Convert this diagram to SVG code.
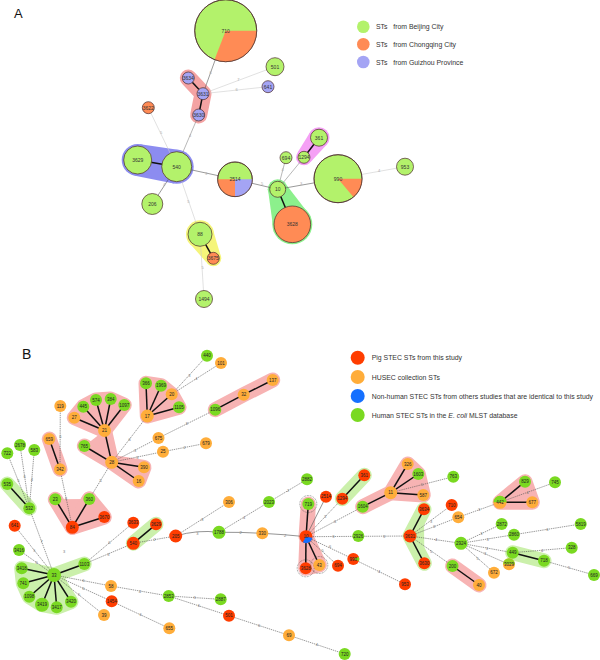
<svg xmlns="http://www.w3.org/2000/svg" width="600" height="660" viewBox="0 0 600 660">
<style>
text{font-family:"Liberation Sans",Arial,sans-serif}
.t{font-size:4.5px;text-anchor:middle;dominant-baseline:central;fill:#222}
.ta{font-size:5px;text-anchor:middle;dominant-baseline:central;fill:#333}
.el{font-size:4px;text-anchor:middle;dominant-baseline:central;fill:#777}
.ela{font-size:4px;text-anchor:middle;dominant-baseline:central;fill:#aaa}
.leg{font-size:6.9px;fill:#333}
.ag{fill:#b3f26b;stroke:#4b2a2a;stroke-width:0.7}
.ao{fill:#ff8b55;stroke:#4b2a2a;stroke-width:0.7}
.ap{fill:#a4a4f4;stroke:#4b2a2a;stroke-width:0.7}
.fo{fill:#ff8b55}.fp{fill:#a4a4f4}
.br{fill:#ff3d00}.bo{fill:#ffad3a}.bb{fill:#1570ff}.bg{fill:#7ad921}
.ea{stroke:#555;stroke-width:0.6;fill:none}
.eal{stroke:#ccc;stroke-width:0.6;fill:none}
.eam{stroke:#888;stroke-width:0.6;fill:none}
.th{stroke:#111;stroke-width:1.5;fill:none}
.ed{stroke:#555;stroke-width:0.6;stroke-dasharray:1.4,0.8;fill:none}
.es{stroke:#666;stroke-width:0.7;fill:none}
.pk{stroke:#f7b3b3;stroke-width:15;stroke-linecap:round;stroke-linejoin:round;fill:#f7b3b3}
.gn{stroke:#cbf0ab;stroke-width:15;stroke-linecap:round;stroke-linejoin:round;fill:#cbf0ab}
.dc{fill:none;stroke:#444;stroke-width:0.6;stroke-dasharray:0.8,0.8}
</style>

<text x="14" y="18" font-family="'Liberation Serif',serif" font-size="13" fill="#111">A</text>
<text x="22" y="359" font-family="'Liberation Serif',serif" font-size="14" fill="#111">B</text>

<g id="legend-a">
<circle cx="363.3" cy="26.7" r="6.3" fill="#b3f26b"/>
<circle cx="363.3" cy="44.3" r="6.3" fill="#ff8b55"/>
<circle cx="363.3" cy="62" r="6.3" fill="#a4a4f4"/>
<text class="leg" x="376" y="29.2" xml:space="preserve">STs   from Beijing City</text>
<text class="leg" x="376" y="46.8" xml:space="preserve">STs   from Chongqing City</text>
<text class="leg" x="376" y="64.5" xml:space="preserve">STs   from Guizhou Province</text>
</g>

<g id="legend-b">
<circle cx="357.7" cy="357.7" r="7" fill="#ff3d00"/>
<circle cx="357.7" cy="377" r="7" fill="#ffad3a"/>
<circle cx="357.7" cy="396" r="7" fill="#1570ff"/>
<circle cx="357.7" cy="415" r="7" fill="#7ad921"/>
<text class="leg" x="371.7" y="360.2">Pig STEC STs from this study</text>
<text class="leg" x="371.7" y="379.5">HUSEC collection STs</text>
<text class="leg" x="371.7" y="398.5">Non-human STEC STs from others studies that are identical to this study</text>
<text class="leg" x="371.7" y="417.5">Human STEC STs in the <tspan font-style="italic">E. coli</tspan> MLST database</text>
</g>

<g id="bands-a">
<polyline points="188.3,78 203,93.7 198.7,115" fill="none" stroke="#f4a3a3" stroke-width="17" stroke-linecap="round" stroke-linejoin="round"/>
<g fill="#8c8cf0"><polygon points="140.4,144.2 179.6,150 173.8,183.4 135,175.8"/><circle cx="137.7" cy="160" r="16"/><circle cx="176.7" cy="166.7" r="17"/></g>
<g fill="#8cf08c"><polygon points="268.5,193.2 286.9,185.5 310.8,216.6 273.8,232"/><circle cx="277.7" cy="189.3" r="10"/><circle cx="292.3" cy="224.3" r="20"/></g>
<g fill="#f5f57a"><polygon points="187.7,241.1 212.3,227.5 220.3,254.4 206.3,262.2"/><circle cx="200" cy="234.3" r="14"/><circle cx="213.3" cy="258.3" r="8"/></g>
<g fill="#f5a0f5"><polygon points="310.4,162.2 327.3,144.1 310.7,131.3 297.6,152.4"/><circle cx="304" cy="157.3" r="8"/><circle cx="319" cy="137.7" r="10.5"/></g>
</g>

<g id="connectors-a">
<line class="ea" x1="225.7" y1="30.7" x2="203" y2="93.7"/>
<line class="th" x1="188.3" y1="78" x2="203" y2="93.7"/>
<line class="th" x1="203" y1="93.7" x2="198.7" y2="115"/>
<line class="eal" x1="203" y1="93.7" x2="275" y2="66.7"/>
<line class="eal" x1="203" y1="93.7" x2="268" y2="86.7"/>
<line class="eal" x1="148.3" y1="107.7" x2="176.7" y2="166.7"/>
<line class="eam" x1="198.7" y1="115" x2="176.7" y2="166.7"/>
<line class="th" x1="137.7" y1="160" x2="176.7" y2="166.7"/>
<line class="ea" x1="176.7" y1="166.7" x2="152.3" y2="204"/>
<line class="ea" x1="176.7" y1="166.7" x2="235" y2="179.3"/>
<line class="eal" x1="176.7" y1="166.7" x2="200" y2="234.3"/>
<line class="th" x1="200" y1="234.3" x2="213.3" y2="258.3"/>
<line class="eal" x1="200" y1="234.3" x2="204" y2="299"/>
<line class="ea" x1="235" y1="179.3" x2="277.7" y2="189.3"/>
<line class="eam" x1="277.7" y1="189.3" x2="286" y2="157.7"/>
<line class="eam" x1="277.7" y1="189.3" x2="304" y2="157.3"/>
<line class="th" x1="304" y1="157.3" x2="319" y2="137.7"/>
<line class="ea" x1="277.7" y1="189.3" x2="338" y2="178.7"/>
<line class="eal" x1="338" y1="178.7" x2="405" y2="166.7"/>
<line class="th" x1="277.7" y1="189.3" x2="292.3" y2="224.3"/>
<text class="ela" x="210.7" y="72.7">6</text>
<text class="ela" x="238.3" y="79.3">7</text>
<text class="ela" x="236.7" y="89">6</text>
<text class="ela" x="161" y="132">5</text>
<text class="ela" x="190" y="135">4</text>
<text class="ela" x="164" y="184">4</text>
<text class="ela" x="206" y="173.3">3</text>
<text class="ela" x="188.3" y="201">5</text>
<text class="ela" x="202.7" y="267.7">5</text>
<text class="ela" x="262" y="183.3">5</text>
<text class="ela" x="282.7" y="169.3">4</text>
<text class="ela" x="301" y="183.3">3</text>
<text class="ela" x="379" y="170.7">4</text>
</g>

<g id="a-710"><circle class="ag" cx="225.7" cy="30.7" r="31"/><path class="fo" d="M225.7,30.7 L256.7,30.7 A31,31 0 0 1 214.6,59.6 Z"/><circle cx="225.7" cy="30.7" r="31" fill="none" stroke="#4b2a2a" stroke-width="0.7"/><text class="ta" x="225.7" y="30.7">710</text></g>
<g id="a-3634"><circle class="ap" cx="188.3" cy="78" r="6"/><text class="ta" x="188.3" y="78" font-size="4">3634</text></g>
<g id="a-3631"><circle class="ap" cx="203" cy="93.7" r="6"/><text class="ta" x="203" y="93.7" font-size="4">3631</text></g>
<g id="a-3630"><circle class="ap" cx="198.7" cy="115" r="6"/><text class="ta" x="198.7" y="115" font-size="4">3630</text></g>
<g id="a-501"><circle class="ag" cx="275" cy="66.7" r="9"/><text class="ta" x="275" y="66.7">501</text></g>
<g id="a-641"><circle class="ap" cx="268" cy="86.7" r="6"/><text class="ta" x="268" y="86.7" font-size="4">641</text></g>
<g id="a-3622"><circle class="ao" cx="148.3" cy="107.7" r="6"/><text class="ta" x="148.3" y="107.7" font-size="4">3622</text></g>
<g id="a-3629"><circle class="ag" cx="137.7" cy="160" r="14"/><text class="ta" x="137.7" y="160">3629</text></g>
<g id="a-540"><circle class="ag" cx="176.7" cy="166.7" r="15"/><text class="ta" x="176.7" y="166.7">540</text></g>
<g id="a-206"><circle class="ag" cx="152.3" cy="204" r="10.5"/><text class="ta" x="152.3" y="204">206</text></g>
<g id="a-2514"><circle class="ag" cx="235" cy="179.3" r="17.3"/><path class="fo" d="M235,179.3 L235,196.6 A17.3,17.3 0 0 1 217.7,179.3 Z"/><path class="fp" d="M235,179.3 L252.3,179.3 A17.3,17.3 0 0 1 235,196.6 Z"/><circle cx="235" cy="179.3" r="17.3" fill="none" stroke="#4b2a2a" stroke-width="0.7"/><text class="ta" x="235" y="179.3">2514</text></g>
<g id="a-10"><circle class="ag" cx="277.7" cy="189.3" r="8"/><text class="ta" x="277.7" y="189.3">10</text></g>
<g id="a-694"><circle class="ag" cx="286" cy="157.7" r="6"/><text class="ta" x="286" y="157.7" font-size="4">694</text></g>
<g id="a-1294"><circle class="ag" cx="304" cy="157.3" r="6"/><text class="ta" x="304" y="157.3" font-size="4">1294</text></g>
<g id="a-361"><circle class="ag" cx="319" cy="137.7" r="8.5"/><text class="ta" x="319" y="137.7">361</text></g>
<g id="a-990"><circle class="ag" cx="338" cy="178.7" r="24"/><path class="fo" d="M338,178.7 L362,178.7 A24,24 0 0 1 353.4,197.1 Z"/><circle cx="338" cy="178.7" r="24" fill="none" stroke="#4b2a2a" stroke-width="0.7"/><text class="ta" x="338" y="178.7">990</text></g>
<g id="a-953"><circle class="ag" cx="405" cy="166.7" r="8.5"/><text class="ta" x="405" y="166.7">953</text></g>
<g id="a-3628"><circle class="ao" cx="292.3" cy="224.3" r="18.3"/><text class="ta" x="292.3" y="224.3">3628</text></g>
<g id="a-88"><circle class="ag" cx="200" cy="234.3" r="12"/><text class="ta" x="200" y="234.3">88</text></g>
<g id="a-3675"><circle class="ao" cx="213.3" cy="258.3" r="6"/><text class="ta" x="213.3" y="258.3" font-size="4">3675</text></g>
<g id="a-1494"><circle class="ag" cx="204" cy="299" r="8.5"/><text class="ta" x="204" y="299">1494</text></g>

<g id="bands-b">
<polygon class="pk" points="147.3,416 146,383.3 161,385.7 171.7,394.3 179,407.3"/>
<polygon class="pk" points="104.5,430.5 74.3,417.7 83.3,406.7 96,400 110.7,399 124.3,405"/>
<polyline class="pk" fill="none" points="104.5,430.5 111.7,462.3 84.3,446"/>
<polygon class="pk" points="111.7,462.3 144,467.3 138.7,481"/>
<polyline class="pk" fill="none" points="215.3,409.7 243.7,394.7 272.7,380"/>
<line class="pk" x1="49.3" y1="439" x2="60" y2="469.3"/>
<polyline class="pk" fill="none" points="55.3,499.3 72.3,527.3 89.3,499"/>
<polygon class="pk" points="72.3,527.3 89.3,499 104.3,517"/>
<polygon class="pk" points="308.3,504 306,536.7 319.3,565 305.7,568.3"/>
<line class="pk" x1="362.7" y1="506.7" x2="390.7" y2="492.7"/>
<polygon class="pk" points="390.7,492.7 407.7,464 418.3,474 423.3,495"/>
<line class="pk" x1="452.5" y1="566" x2="479" y2="585"/>
<polygon class="pk" points="500,502.3 525,481.7 532.3,502.3"/>
<line class="gn" x1="7.3" y1="484" x2="29.3" y2="508.3"/>
<polygon class="gn" points="54,575 21.7,568.3 23.3,583.3 29.3,596.7 42,604.7 56.7,607.3 71,601.7"/>
<line class="gn" x1="54" y1="575" x2="84.3" y2="564"/>
<line class="gn" x1="133.3" y1="543.3" x2="156" y2="524.3"/>
<line class="gn" x1="342.3" y1="498.7" x2="364.3" y2="475.3"/>
<polyline class="gn" fill="none" points="424,509.3 410,536 424.3,563.3"/>
<line class="gn" x1="512.7" y1="552.7" x2="544" y2="560.7"/>
</g>

<g id="connectors-b">
<line class="ed" x1="171.7" y1="394.3" x2="207" y2="355.7"/>
<line class="ed" x1="171.7" y1="394.3" x2="221" y2="363"/>
<line class="ed" x1="147.3" y1="416" x2="111.7" y2="462.3"/>
<line class="ed" x1="158.5" y1="438" x2="215.3" y2="409.7"/>
<line class="ed" x1="111.7" y1="462.3" x2="158.5" y2="438"/>
<line class="ed" x1="111.7" y1="462.3" x2="163" y2="451.7"/>
<line class="ed" x1="163" y1="451.7" x2="206" y2="443.3"/>
<line class="ed" x1="111.7" y1="462.3" x2="89.3" y2="499"/>
<line class="ed" x1="60.3" y1="406" x2="60" y2="469.3"/>
<line class="ed" x1="60" y1="469.3" x2="72.3" y2="527.3"/>
<line class="ed" x1="29.3" y1="508.3" x2="7.3" y2="453.3"/>
<line class="ed" x1="29.3" y1="508.3" x2="20" y2="445"/>
<line class="ed" x1="29.3" y1="508.3" x2="34.3" y2="450"/>
<line class="ed" x1="54" y1="575" x2="29.3" y2="508.3"/>
<line class="ed" x1="54" y1="575" x2="14.7" y2="525.8"/>
<line class="ed" x1="54" y1="575" x2="19" y2="550"/>
<line class="ed" x1="54" y1="575" x2="111" y2="586"/>
<line class="ed" x1="54" y1="575" x2="111.7" y2="601.3"/>
<line class="ed" x1="54" y1="575" x2="104" y2="615"/>
<line class="ed" x1="111" y1="586" x2="168.7" y2="596"/>
<line class="ed" x1="111.7" y1="601.3" x2="169.3" y2="628.3"/>
<line class="ed" x1="168.7" y1="596" x2="220.7" y2="599.3"/>
<line class="ed" x1="168.7" y1="596" x2="229" y2="615.7"/>
<line class="ed" x1="229" y1="615.7" x2="289" y2="635.3"/>
<line class="ed" x1="289" y1="635.3" x2="344.7" y2="654"/>
<line class="ed" x1="84.3" y1="564" x2="133.3" y2="522.7"/>
<line class="ed" x1="84.3" y1="564" x2="133.3" y2="543.3"/>
<line class="ed" x1="133.3" y1="543.3" x2="175.7" y2="536"/>
<path class="es" d="M175.7,536 Q197,529.5 219,532.3 Q240,532 262.3,533.3 Q285,534.5 306,536.7"/>
<line class="ed" x1="175.7" y1="536" x2="229" y2="502"/>
<line class="ed" x1="219" y1="532.3" x2="269" y2="502"/>
<line class="ed" x1="269" y1="502" x2="307" y2="479.3"/>
<line class="es" x1="306" y1="536.7" x2="326" y2="496.7"/>
<line class="ed" x1="306" y1="536.7" x2="342.3" y2="498.7"/>
<line class="ed" x1="306" y1="536.7" x2="362.7" y2="506.7"/>
<line class="ed" x1="390.7" y1="492.7" x2="453.3" y2="476.7"/>
<line class="ed" x1="306" y1="536.7" x2="410" y2="536"/>
<line class="ed" x1="306" y1="536.7" x2="338" y2="565.7"/>
<line class="ed" x1="306" y1="536.7" x2="353.3" y2="559"/>
<line class="ed" x1="353.3" y1="559" x2="405" y2="584.3"/>
<line class="ed" x1="410" y1="536" x2="451.7" y2="505"/>
<line class="ed" x1="410" y1="536" x2="458.3" y2="517.3"/>
<line class="ed" x1="410" y1="536" x2="461" y2="543.3"/>
<line class="ed" x1="410" y1="536" x2="452.5" y2="566"/>
<line class="ed" x1="458.3" y1="517.3" x2="500" y2="502.3"/>
<line class="ed" x1="500" y1="502.3" x2="555" y2="482.3"/>
<line class="ed" x1="461" y1="543.3" x2="501.7" y2="524"/>
<line class="ed" x1="461" y1="543.3" x2="514" y2="534.7"/>
<line class="ed" x1="461" y1="543.3" x2="512.7" y2="552.7"/>
<line class="ed" x1="461" y1="543.3" x2="509" y2="564.3"/>
<line class="ed" x1="461" y1="543.3" x2="494" y2="572.7"/>
<line class="ed" x1="514" y1="534.7" x2="580.7" y2="524"/>
<line class="ed" x1="512.7" y1="552.7" x2="571.7" y2="547.7"/>
<line class="ed" x1="544" y1="560.7" x2="594" y2="575"/>

<line class="th" x1="147.3" y1="416" x2="146" y2="383.3"/>
<line class="th" x1="147.3" y1="416" x2="161" y2="385.7"/>
<line class="th" x1="147.3" y1="416" x2="171.7" y2="394.3"/>
<line class="th" x1="147.3" y1="416" x2="179" y2="407.3"/>
<line class="th" x1="215.3" y1="409.7" x2="243.7" y2="394.7"/>
<line class="th" x1="243.7" y1="394.7" x2="272.7" y2="380"/>
<line class="th" x1="104.5" y1="430.5" x2="74.3" y2="417.7"/>
<line class="th" x1="104.5" y1="430.5" x2="83.3" y2="406.7"/>
<line class="th" x1="104.5" y1="430.5" x2="96" y2="400"/>
<line class="th" x1="104.5" y1="430.5" x2="110.7" y2="399"/>
<line class="th" x1="104.5" y1="430.5" x2="124.3" y2="405"/>
<line class="th" x1="104.5" y1="430.5" x2="111.7" y2="462.3"/>
<line class="th" x1="111.7" y1="462.3" x2="84.3" y2="446"/>
<line class="th" x1="111.7" y1="462.3" x2="144" y2="467.3"/>
<line class="th" x1="111.7" y1="462.3" x2="138.7" y2="481"/>
<line class="th" x1="60" y1="469.3" x2="49.3" y2="439"/>
<line class="th" x1="72.3" y1="527.3" x2="55.3" y2="499.3"/>
<line class="th" x1="72.3" y1="527.3" x2="89.3" y2="499"/>
<line class="th" x1="72.3" y1="527.3" x2="104.3" y2="517"/>
<line class="th" x1="29.3" y1="508.3" x2="7.3" y2="484"/>
<line class="th" x1="54" y1="575" x2="21.7" y2="568.3"/>
<line class="th" x1="54" y1="575" x2="23.3" y2="583.3"/>
<line class="th" x1="54" y1="575" x2="29.3" y2="596.7"/>
<line class="th" x1="54" y1="575" x2="42" y2="604.7"/>
<line class="th" x1="54" y1="575" x2="56.7" y2="607.3"/>
<line class="th" x1="54" y1="575" x2="71" y2="601.7"/>
<line class="th" x1="54" y1="575" x2="84.3" y2="564"/>
<line class="th" x1="133.3" y1="543.3" x2="156" y2="524.3"/>
<line class="th" x1="306" y1="536.7" x2="308.3" y2="504"/>
<line class="th" x1="306" y1="536.7" x2="305.7" y2="568.3"/>
<line class="th" x1="306" y1="536.7" x2="319.3" y2="565"/>
<line class="th" x1="342.3" y1="498.7" x2="364.3" y2="475.3"/>
<line class="th" x1="362.7" y1="506.7" x2="390.7" y2="492.7"/>
<line class="th" x1="390.7" y1="492.7" x2="407.7" y2="464"/>
<line class="th" x1="390.7" y1="492.7" x2="418.3" y2="474"/>
<line class="th" x1="390.7" y1="492.7" x2="423.3" y2="495"/>
<line class="th" x1="410" y1="536" x2="424" y2="509.3"/>
<line class="th" x1="410" y1="536" x2="424.3" y2="563.3"/>
<line class="th" x1="452.5" y1="566" x2="479" y2="585"/>
<line class="th" x1="500" y1="502.3" x2="525" y2="481.7"/>
<line class="th" x1="500" y1="502.3" x2="532.3" y2="502.3"/>
<line class="th" x1="512.7" y1="552.7" x2="544" y2="560.7"/>

<text class="el" x="189.4" y="375">3</text>
<text class="el" x="196.4" y="378.7">4</text>
<text class="el" x="129.5" y="439.2">6</text>
<text class="el" x="186.9" y="423.9">8</text>
<text class="el" x="135.1" y="450.2">3</text>
<text class="el" x="137.4" y="457">3</text>
<text class="el" x="184.5" y="447.5">2</text>
<text class="el" x="100.5" y="480.7">5</text>
<text class="el" x="60.3" y="436">6</text>
<text class="el" x="66.2" y="498.3">6</text>
<text class="el" x="18.3" y="480.8">5</text>
<text class="el" x="24.7" y="476.7">6</text>
<text class="el" x="31.8" y="479.2">4</text>
<text class="el" x="41.7" y="541.7">7</text>
<text class="el" x="34.4" y="550.4">5</text>
<text class="el" x="36.5" y="562.5">6</text>
<text class="el" x="64" y="551">3</text>
<text class="el" x="83.3" y="580">6</text>
<text class="el" x="83.3" y="588.3">6</text>
<text class="el" x="79" y="594">5</text>
<text class="el" x="139.9" y="591">4</text>
<text class="el" x="140.5" y="614.8">6</text>
<text class="el" x="194.7" y="597.7">3</text>
<text class="el" x="198.9" y="605.9">6</text>
<text class="el" x="259" y="625.5">6</text>
<text class="el" x="316.9" y="644.7">4</text>
<text class="el" x="109.3" y="542.7">6</text>
<text class="el" x="108.3" y="554">3</text>
<text class="el" x="154.5" y="539.7">2</text>
<text class="el" x="197.4" y="533">3</text>
<text class="el" x="202.4" y="519">8</text>
<text class="el" x="244" y="517.2">4</text>
<text class="el" x="240.7" y="532.5">2</text>
<text class="el" x="288" y="490.7">2</text>
<text class="el" x="285" y="535.3">2</text>
<text class="el" x="325" y="516.7">3</text>
<text class="el" x="335" y="521">6</text>
<text class="el" x="422" y="484.7">5</text>
<text class="el" x="333.3" y="536">3</text>
<text class="el" x="384" y="536">3</text>
<text class="el" x="322.7" y="550.7">5</text>
<text class="el" x="330" y="546.7">6</text>
<text class="el" x="379.2" y="571.7">4</text>
<text class="el" x="431" y="521">3</text>
<text class="el" x="434" y="526.7">3</text>
<text class="el" x="436" y="539.7">4</text>
<text class="el" x="431.2" y="551">5</text>
<text class="el" x="479.2" y="509.8">3</text>
<text class="el" x="527.5" y="492.3">4</text>
<text class="el" x="481.4" y="533.7">3</text>
<text class="el" x="487.5" y="539">3</text>
<text class="el" x="486.9" y="548">3</text>
<text class="el" x="485" y="553.8">3</text>
<text class="el" x="477.5" y="558">5</text>
<text class="el" x="547.4" y="529.4">6</text>
<text class="el" x="542.2" y="550.2">4</text>
<text class="el" x="569" y="567.9">5</text>
</g>

<g id="b-440"><circle class="bg" cx="207" cy="355.7" r="6"/><text class="t" x="207" y="355.7">440</text></g>
<g id="b-101"><circle class="bo" cx="221" cy="363" r="6"/><text class="t" x="221" y="363">101</text></g>
<g id="b-20"><circle class="bo" cx="171.7" cy="394.3" r="6"/><text class="t" x="171.7" y="394.3">20</text></g>
<g id="b-366"><circle class="bg" cx="146" cy="383.3" r="6"/><text class="t" x="146" y="383.3">366</text></g>
<g id="b-1969"><circle class="bg" cx="161" cy="385.7" r="6"/><text class="t" x="161" y="385.7">1969</text></g>
<g id="b-1105"><circle class="bg" cx="179" cy="407.3" r="6"/><text class="t" x="179" y="407.3">1105</text></g>
<g id="b-17"><circle class="bo" cx="147.3" cy="416" r="6.5"/><text class="t" x="147.3" y="416">17</text></g>
<g id="b-1096"><circle class="bg" cx="215.3" cy="409.7" r="6"/><text class="t" x="215.3" y="409.7">1096</text></g>
<g id="b-32"><circle class="bo" cx="243.7" cy="394.7" r="6"/><text class="t" x="243.7" y="394.7">32</text></g>
<g id="b-137"><circle class="bo" cx="272.7" cy="380" r="6"/><text class="t" x="272.7" y="380">137</text></g>
<g id="b-675"><circle class="bo" cx="158.5" cy="438" r="6"/><text class="t" x="158.5" y="438">675</text></g>
<g id="b-21"><circle class="bo" cx="104.5" cy="430.5" r="6.5"/><text class="t" x="104.5" y="430.5">21</text></g>
<g id="b-27"><circle class="bo" cx="74.3" cy="417.7" r="6"/><text class="t" x="74.3" y="417.7">27</text></g>
<g id="b-445"><circle class="bg" cx="83.3" cy="406.7" r="6"/><text class="t" x="83.3" y="406.7">445</text></g>
<g id="b-574"><circle class="bg" cx="96" cy="400" r="6"/><text class="t" x="96" y="400">574</text></g>
<g id="b-384"><circle class="bg" cx="110.7" cy="399" r="6"/><text class="t" x="110.7" y="399">384</text></g>
<g id="b-1097"><circle class="bg" cx="124.3" cy="405" r="6"/><text class="t" x="124.3" y="405">1097</text></g>
<g id="b-119"><circle class="bo" cx="60.3" cy="406" r="6"/><text class="t" x="60.3" y="406">119</text></g>
<g id="b-659"><circle class="bo" cx="49.3" cy="439" r="6"/><text class="t" x="49.3" y="439">659</text></g>
<g id="b-342"><circle class="bo" cx="60" cy="469.3" r="6"/><text class="t" x="60" y="469.3">342</text></g>
<g id="b-28"><circle class="bo" cx="111.7" cy="462.3" r="6.5"/><text class="t" x="111.7" y="462.3">28</text></g>
<g id="b-765"><circle class="bg" cx="84.3" cy="446" r="6"/><text class="t" x="84.3" y="446">765</text></g>
<g id="b-390"><circle class="bo" cx="144" cy="467.3" r="6"/><text class="t" x="144" y="467.3">390</text></g>
<g id="b-16"><circle class="bo" cx="138.7" cy="481" r="6"/><text class="t" x="138.7" y="481">16</text></g>
<g id="b-25"><circle class="bo" cx="163" cy="451.7" r="6"/><text class="t" x="163" y="451.7">25</text></g>
<g id="b-679"><circle class="bo" cx="206" cy="443.3" r="6"/><text class="t" x="206" y="443.3">679</text></g>
<g id="b-84"><circle class="br" cx="72.3" cy="527.3" r="6.5"/><text class="t" x="72.3" y="527.3">84</text></g>
<g id="b-23"><circle class="bg" cx="55.3" cy="499.3" r="6"/><text class="t" x="55.3" y="499.3">23</text></g>
<g id="b-360"><circle class="bg" cx="89.3" cy="499" r="6"/><text class="t" x="89.3" y="499">360</text></g>
<g id="b-3670"><circle class="br" cx="104.3" cy="517" r="6"/><text class="t" x="104.3" y="517">3670</text></g>
<g id="b-722"><circle class="bg" cx="7.3" cy="453.3" r="6"/><text class="t" x="7.3" y="453.3">722</text></g>
<g id="b-2678"><circle class="bg" cx="20" cy="445" r="6"/><text class="t" x="20" y="445">2678</text></g>
<g id="b-583"><circle class="bg" cx="34.3" cy="450" r="6"/><text class="t" x="34.3" y="450">583</text></g>
<g id="b-535"><circle class="bg" cx="7.3" cy="484" r="6"/><text class="t" x="7.3" y="484">535</text></g>
<g id="b-532"><circle class="bg" cx="29.3" cy="508.3" r="6"/><text class="t" x="29.3" y="508.3">532</text></g>
<g id="b-641"><circle class="br" cx="14.7" cy="525.8" r="6"/><text class="t" x="14.7" y="525.8">641</text></g>
<g id="b-33"><circle class="bg" cx="54" cy="575" r="7"/><text class="t" x="54" y="575">33</text></g>
<g id="b-3416"><circle class="bg" cx="19" cy="550" r="6"/><text class="t" x="19" y="550">3416</text></g>
<g id="b-3418"><circle class="bg" cx="21.7" cy="568.3" r="6"/><text class="t" x="21.7" y="568.3">3418</text></g>
<g id="b-741"><circle class="bg" cx="23.3" cy="583.3" r="6"/><text class="t" x="23.3" y="583.3">741</text></g>
<g id="b-1098"><circle class="bg" cx="29.3" cy="596.7" r="6"/><text class="t" x="29.3" y="596.7">1098</text></g>
<g id="b-3419"><circle class="bg" cx="42" cy="604.7" r="7"/><text class="t" x="42" y="604.7">3419</text></g>
<g id="b-3417"><circle class="bg" cx="56.7" cy="607.3" r="6"/><text class="t" x="56.7" y="607.3">3417</text></g>
<g id="b-3420"><circle class="bg" cx="71" cy="601.7" r="6"/><text class="t" x="71" y="601.7">3420</text></g>
<g id="b-1103"><circle class="bg" cx="84.3" cy="564" r="6"/><text class="t" x="84.3" y="564">1103</text></g>
<g id="b-58"><circle class="bo" cx="111" cy="586" r="6"/><text class="t" x="111" y="586">58</text></g>
<g id="b-1454"><circle class="br" cx="111.7" cy="601.3" r="6"/><text class="t" x="111.7" y="601.3">1454</text></g>
<g id="b-39"><circle class="bo" cx="104" cy="615" r="6"/><text class="t" x="104" y="615">39</text></g>
<g id="b-2853"><circle class="bg" cx="168.7" cy="596" r="6"/><text class="t" x="168.7" y="596">2853</text></g>
<g id="b-655"><circle class="bo" cx="169.3" cy="628.3" r="6"/><text class="t" x="169.3" y="628.3">655</text></g>
<g id="b-2887"><circle class="bg" cx="220.7" cy="599.3" r="6"/><text class="t" x="220.7" y="599.3">2887</text></g>
<g id="b-501"><circle class="br" cx="229" cy="615.7" r="6"/><text class="t" x="229" y="615.7">501</text></g>
<g id="b-69"><circle class="bo" cx="289" cy="635.3" r="6"/><text class="t" x="289" y="635.3">69</text></g>
<g id="b-720"><circle class="bg" cx="344.7" cy="654" r="6"/><text class="t" x="344.7" y="654">720</text></g>
<g id="b-3633"><circle class="br" cx="133.3" cy="522.7" r="6"/><text class="t" x="133.3" y="522.7">3633</text></g>
<g id="b-3629"><circle class="br" cx="156" cy="524.3" r="6"/><text class="t" x="156" y="524.3">3629</text></g>
<g id="b-540"><circle class="br" cx="133.3" cy="543.3" r="6.5"/><text class="t" x="133.3" y="543.3">540</text></g>
<g id="b-205"><circle class="br" cx="175.7" cy="536" r="6.5"/><text class="t" x="175.7" y="536">205</text></g>
<g id="b-1788"><circle class="bg" cx="219" cy="532.3" r="6.5"/><text class="t" x="219" y="532.3">1788</text></g>
<g id="b-306"><circle class="bo" cx="229" cy="502" r="6"/><text class="t" x="229" y="502">306</text></g>
<g id="b-2023"><circle class="bg" cx="269" cy="502" r="6"/><text class="t" x="269" y="502">2023</text></g>
<g id="b-330"><circle class="bo" cx="262.3" cy="533.3" r="6"/><text class="t" x="262.3" y="533.3">330</text></g>
<g id="b-2882"><circle class="bg" cx="307" cy="479.3" r="6"/><text class="t" x="307" y="479.3">2882</text></g>
<g id="b-10"><circle class="br" cx="306" cy="536.7" r="6.5"/><path class="bb" d="M306,536.7 L312.4,537.8 A6.5,6.5 0 0 1 302.75,542.3 Z"/><text class="t" x="306" y="536.7">10</text></g>
<g id="b-719"><circle class="bg" cx="308.3" cy="504" r="6"/><circle class="dc" cx="308.3" cy="504" r="8.5"/><text class="t" x="308.3" y="504">719</text></g>
<g id="b-2514"><circle class="br" cx="326" cy="496.7" r="6"/><text class="t" x="326" y="496.7">2514</text></g>
<g id="b-1294"><circle class="br" cx="342.3" cy="498.7" r="6"/><text class="t" x="342.3" y="498.7">1294</text></g>
<g id="b-361"><circle class="br" cx="364.3" cy="475.3" r="6"/><text class="t" x="364.3" y="475.3">361</text></g>
<g id="b-1604"><circle class="bg" cx="362.7" cy="506.7" r="6"/><text class="t" x="362.7" y="506.7">1604</text></g>
<g id="b-11"><circle class="bo" cx="390.7" cy="492.7" r="6.5"/><text class="t" x="390.7" y="492.7">11</text></g>
<g id="b-326"><circle class="bo" cx="407.7" cy="464" r="6"/><text class="t" x="407.7" y="464">326</text></g>
<g id="b-1603"><circle class="bg" cx="418.3" cy="474" r="6"/><text class="t" x="418.3" y="474">1603</text></g>
<g id="b-587"><circle class="bo" cx="423.3" cy="495" r="6"/><text class="t" x="423.3" y="495">587</text></g>
<g id="b-763"><circle class="bg" cx="453.3" cy="476.7" r="6"/><text class="t" x="453.3" y="476.7">763</text></g>
<g id="b-2926"><circle class="bg" cx="358.3" cy="536" r="6"/><text class="t" x="358.3" y="536">2926</text></g>
<g id="b-3631"><circle class="br" cx="410" cy="536" r="6.5"/><text class="t" x="410" y="536">3631</text></g>
<g id="b-3634"><circle class="br" cx="424" cy="509.3" r="6"/><text class="t" x="424" y="509.3">3634</text></g>
<g id="b-3630"><circle class="br" cx="424.3" cy="563.3" r="6"/><text class="t" x="424.3" y="563.3">3630</text></g>
<g id="b-710"><circle class="br" cx="451.7" cy="505" r="6"/><text class="t" x="451.7" y="505">710</text></g>
<g id="b-654"><circle class="bo" cx="458.3" cy="517.3" r="6"/><text class="t" x="458.3" y="517.3">654</text></g>
<g id="b-2924"><circle class="bg" cx="461" cy="543.3" r="6.5"/><text class="t" x="461" y="543.3">2924</text></g>
<g id="b-3628"><circle class="br" cx="305.7" cy="568.3" r="6"/><circle class="dc" cx="305.7" cy="568.3" r="8.5"/><text class="t" x="305.7" y="568.3">3628</text></g>
<g id="b-43"><circle class="bo" cx="319.3" cy="565" r="6"/><circle class="dc" cx="319.3" cy="565" r="8.5"/><text class="t" x="319.3" y="565">43</text></g>
<g id="b-694"><circle class="br" cx="338" cy="565.7" r="6"/><text class="t" x="338" y="565.7">694</text></g>
<g id="b-990"><circle class="br" cx="353.3" cy="559" r="6"/><path class="bg" d="M353.3,559 L358.9,556.9 A6,6 0 0 1 358.9,561.1 Z"/><text class="t" x="353.3" y="559">990</text></g>
<g id="b-953"><circle class="br" cx="405" cy="584.3" r="6"/><text class="t" x="405" y="584.3">953</text></g>
<g id="b-200"><circle class="bg" cx="452.5" cy="566" r="6"/><text class="t" x="452.5" y="566">200</text></g>
<g id="b-40"><circle class="bo" cx="479" cy="585" r="6"/><text class="t" x="479" y="585">40</text></g>
<g id="b-442"><circle class="bo" cx="500" cy="502.3" r="6.5"/><path class="bg" d="M493.5,502.3 A6.5,6.5 0 0 1 506.5,502.3 Z"/><text class="t" x="500" y="502.3">442</text></g>
<g id="b-829"><circle class="bg" cx="525" cy="481.7" r="6"/><text class="t" x="525" y="481.7">829</text></g>
<g id="b-677"><circle class="bo" cx="532.3" cy="502.3" r="6"/><text class="t" x="532.3" y="502.3">677</text></g>
<g id="b-745"><circle class="bg" cx="555" cy="482.3" r="6"/><text class="t" x="555" y="482.3">745</text></g>
<g id="b-2872"><circle class="bg" cx="501.7" cy="524" r="6"/><text class="t" x="501.7" y="524">2872</text></g>
<g id="b-2860"><circle class="bg" cx="514" cy="534.7" r="6"/><text class="t" x="514" y="534.7">2860</text></g>
<g id="b-5819"><circle class="bg" cx="580.7" cy="524" r="6"/><text class="t" x="580.7" y="524">5819</text></g>
<g id="b-449"><circle class="bg" cx="512.7" cy="552.7" r="6"/><text class="t" x="512.7" y="552.7">449</text></g>
<g id="b-328"><circle class="bg" cx="571.7" cy="547.7" r="6"/><text class="t" x="571.7" y="547.7">328</text></g>
<g id="b-718"><circle class="bg" cx="544" cy="560.7" r="6"/><text class="t" x="544" y="560.7">718</text></g>
<g id="b-669"><circle class="bg" cx="594" cy="575" r="6"/><text class="t" x="594" y="575">669</text></g>
<g id="b-3029"><circle class="bo" cx="509" cy="564.3" r="6"/><path class="bg" d="M503,564.3 A6,6 0 0 1 515,564.3 Z" opacity="0.8"/><text class="t" x="509" y="564.3">3029</text></g>
<g id="b-672"><circle class="bo" cx="494" cy="572.7" r="6"/><text class="t" x="494" y="572.7">672</text></g>
</svg>
